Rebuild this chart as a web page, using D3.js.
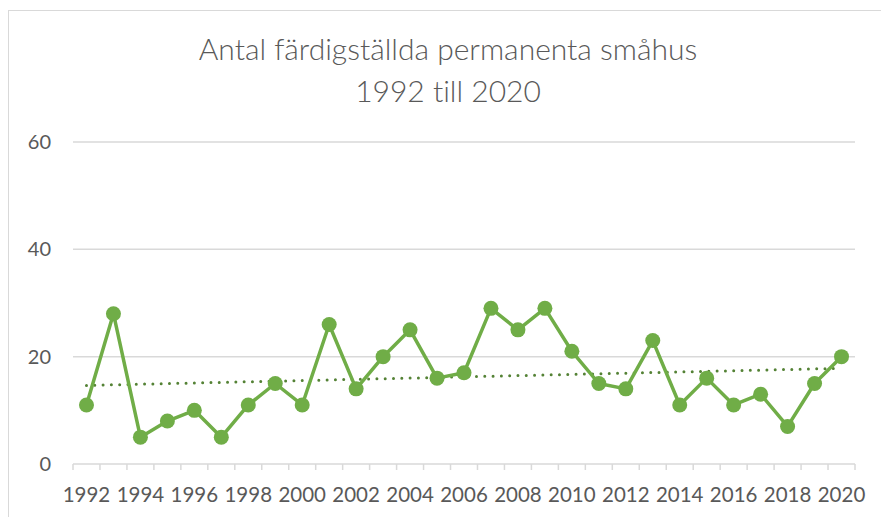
<!DOCTYPE html>
<html>
<head>
<meta charset="utf-8">
<script src="https://cdn.jsdelivr.net/npm/d3@7"></script>
<style>
  body { margin: 0; background: #fff; }
  text { font-family: Lato, "Open Sans", sans-serif; fill: #595959; font-variant-ligatures: none; }
</style>
</head>
<body>
<svg id="chart" width="881" height="517"></svg>
<script>
// data
const years = d3.range(1992, 2021);
const values = [11, 28, 5, 8, 10, 5, 11, 15, 11, 26, 14, 20, 25, 16, 17, 29, 25, 29, 21, 15, 14, 23, 11, 16, 11, 13, 7, 15, 20];
const yTicks = [0, 20, 40, 60];
const titleLines = ['Antal färdigställda permanenta småhus', '1992 till 2020'];

const svg = d3.select('#chart');

// chart frame (runs off the right and bottom edge like the reference)
svg.append('rect')
    .attr('x', 8.5).attr('y', 10.5)
    .attr('width', 900).attr('height', 600)
    .attr('fill', 'none')
    .attr('stroke', '#d9d9d9');

const x = d3.scaleBand().domain(years).range([73, 855]);
const y = d3.scaleLinear().domain([0, 60]).range([464, 142]);
const cx = d => x(d) + x.bandwidth() / 2;

// title
svg.append('text')
    .attr('x', 448).attr('y', 60)
    .attr('text-anchor', 'middle')
    .style('font-size', '30px')
    .style('font-weight', 300)
    .selectAll('tspan')
    .data(titleLines)
    .enter().append('tspan')
    .attr('x', 448)
    .attr('dy', (d, i) => i ? 42 : 0)
    .text(d => d);

// gridlines
svg.append('g')
    .selectAll('line')
    .data(yTicks.filter(t => t > 0))
    .enter().append('line')
    .attr('x1', 73).attr('x2', 855)
    .attr('y1', d => y(d)).attr('y2', d => y(d))
    .attr('stroke', '#d9d9d9')
    .attr('stroke-width', 1.5);

// y labels
const yAxis = svg.append('g')
    .attr('transform', 'translate(51,0)')
    .call(d3.axisLeft(y).tickValues(yTicks).tickSize(0).tickPadding(0));
yAxis.select('.domain').remove();
yAxis.selectAll('text')
    .style('font-size', '20px')
    .attr('fill', '#595959');

// x axis: line + ticks between categories
const xAxis = svg.append('g').attr('transform', `translate(0,${y(0)})`);
xAxis.append('line')
    .attr('x1', 73).attr('x2', 855)
    .attr('stroke', '#d9d9d9').attr('stroke-width', 1.5);
xAxis.selectAll('.tk')
    .data(years.concat([null]))
    .enter().append('line')
    .attr('class', 'tk')
    .attr('x1', d => d === null ? 855 : x(d))
    .attr('x2', d => d === null ? 855 : x(d))
    .attr('y1', 0).attr('y2', 6)
    .attr('stroke', '#d9d9d9').attr('stroke-width', 1.5);
xAxis.selectAll('.lbl')
    .data(years.filter(d => d % 2 === 0))
    .enter().append('text')
    .attr('class', 'lbl')
    .attr('x', d => cx(d))
    .attr('y', 38)
    .attr('text-anchor', 'middle')
    .style('font-size', '20.5px')
    .text(d => d);

// linear trend line
const n = values.length;
const mx = d3.mean(d3.range(n)), my = d3.mean(values);
const slope = d3.sum(values, (v, i) => (i - mx) * (v - my)) / d3.sum(values, (v, i) => (i - mx) ** 2);
const icpt = my - slope * mx;
svg.append('line')
    .attr('x1', cx(years[0])).attr('x2', cx(years[n - 1]))
    .attr('y1', y(icpt)).attr('y2', y(icpt + slope * (n - 1)))
    .attr('stroke', '#548235')
    .attr('stroke-width', 3)
    .attr('stroke-linecap', 'round')
    .attr('stroke-dasharray', '0 8.3');

// series line and markers
const line = d3.line().x((d, i) => cx(years[i])).y(d => y(d));
svg.append('path')
    .datum(values)
    .attr('d', line)
    .attr('fill', 'none')
    .attr('stroke', '#70ad47')
    .attr('stroke-width', 3.5)
    .attr('stroke-linejoin', 'round');

svg.append('g')
    .selectAll('circle')
    .data(values)
    .enter().append('circle')
    .attr('cx', (d, i) => cx(years[i]))
    .attr('cy', d => y(d))
    .attr('r', 7.5)
    .attr('fill', '#70ad47');
</script>
</body>
</html>
